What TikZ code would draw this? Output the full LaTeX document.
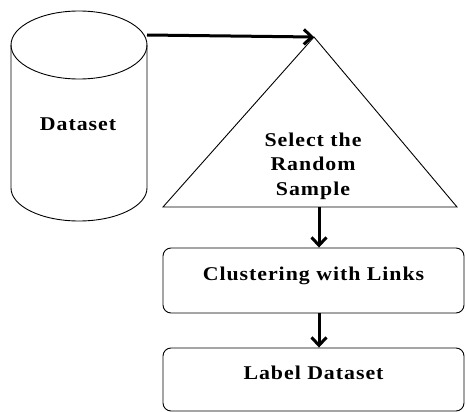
\documentclass[tikz,border=0pt]{standalone}
\usepackage{fontspec}
\newfontfamily\flowfont{Liberation Serif Bold}[FakeStretch=1.12,LetterSpace=5]
\usetikzlibrary{arrows.meta}
\tikzset{
    flowbox/.style={draw, rounded corners=8pt, minimum width=301pt, minimum height=65pt, text height=12pt, text depth=12pt},
    flowarrow/.style={line width=3pt, -{Straight Barb[length=8pt,width=15pt]}},
}
\begin{document}
\begin{tikzpicture}[x=1pt, y=-1pt, line width=0.9pt, font=\fontsize{19.5}{24.5}\flowfont]
    \useasboundingbox (0,0) rectangle (466,412);
    % dataset cylinder
    \draw (79,45) ellipse[x radius=68, y radius=34];
    \draw (11,45) -- (11,188) arc[start angle=180, end angle=0, x radius=68, y radius=33] -- (147,45);
    \draw (78,124) node (dataset) {Dataset};
    \coordinate (dataset-ne) at (147,35);
    % sampling triangle
    \coordinate (apex) at (314,37);
    \coordinate (tri-l) at (163,207);
    \coordinate (tri-r) at (457,207);
    \draw (apex) -- (tri-l) -- (tri-r) -- cycle;
    \draw (313,166) node[align=center] (sample) {Select the\\Random\\Sample};
    \coordinate (tri-b) at (319,207);
    % steps
    \draw (313.5,280.5) node[flowbox] (cluster) {Clustering with Links};
    \draw (313.5,379.5) node[flowbox, minimum height=63pt] (label) {Label Dataset};
    \draw[flowarrow] (dataset-ne) -- (apex);
    \draw[flowarrow] (tri-b) -- (tri-b |- cluster.north);
    \draw[flowarrow] (tri-b |- cluster.south) -- (tri-b |- label.north);
\end{tikzpicture}
\end{document}
